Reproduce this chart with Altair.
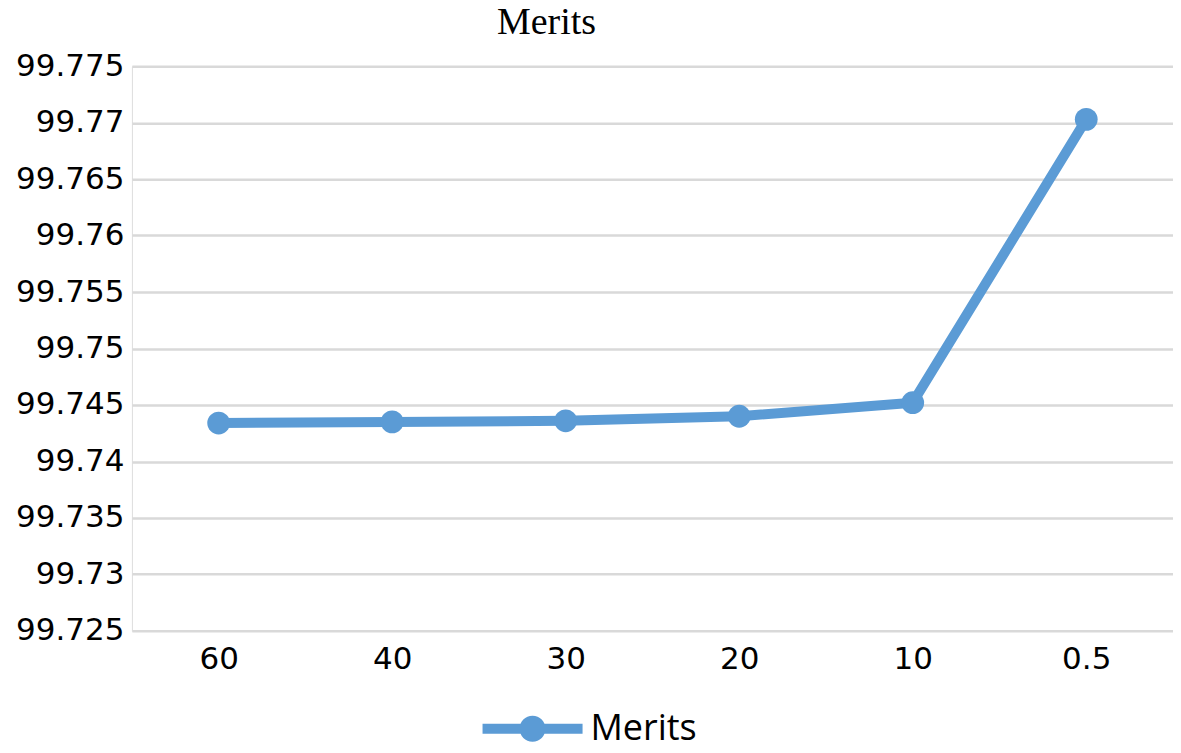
import altair as alt
import pandas as pd

categories = ["60", "40", "30", "20", "10", "0.5"]
values = [99.7434, 99.7435, 99.7436, 99.7440, 99.7452, 99.7703]
series = ["Merits"] * len(categories)
y_ticks = [99.725, 99.73, 99.735, 99.74, 99.745, 99.75, 99.755, 99.76, 99.765, 99.77, 99.775]

df = pd.DataFrame({"x": categories, "y": values, "series": series})

BLUE = "#5B9BD5"
legend_path = ("M-3.85,-0.38 L3.85,-0.38 L3.85,0.38 L-3.85,0.38 Z "
               "M-1,0 A1,1 0 1,1 1,0 A1,1 0 1,1 -1,0 Z")

x = alt.X("x:N", sort=categories, title=None,
          scale=alt.Scale(padding=0.5),
          axis=alt.Axis(labelAngle=0, labelFont="DejaVu Sans", labelFontSize=31,
                        labelColor="#000000", labelPadding=14, ticks=False,
                        domain=False, grid=False))
y = alt.Y("y:Q", title=None,
          scale=alt.Scale(domain=[99.725, 99.775], zero=False, nice=False),
          axis=alt.Axis(values=y_ticks, format=".5~r", labelFont="DejaVu Sans",
                        labelFontSize=31, labelColor="#000000", labelPadding=8,
                        ticks=False, domain=False, grid=True,
                        gridColor="#D9D9D9", gridWidth=2.5))

line = alt.Chart(df).mark_line(color=BLUE, strokeWidth=10, strokeCap="round",
                               strokeJoin="round").encode(x=x, y=y)

points = alt.Chart(df).mark_point(filled=True, size=520, opacity=1).encode(
    x=x, y=y,
    color=alt.Color("series:N", scale=alt.Scale(range=[BLUE]),
                    legend=alt.Legend(title=None, orient="none", legendX=383, legendY=645,
                                      symbolType=legend_path, symbolSize=676,
                                      symbolStrokeWidth=0, symbolOpacity=1,
                                      labelFont="Open Sans", labelFontSize=36,
                                      labelColor="#000000", labelOffset=40))
)

chart = alt.layer(line, points).properties(
    width=1042, height=565,
    padding={"left": 7, "top": -4, "right": 0, "bottom": 0},
    title=alt.Title("Merits", font="Liberation Serif", fontSize=38,
                    fontWeight="normal", color="#000000", dx=-106, offset=8),
).configure_view(stroke=None).configure(background="white")

chart.save("out.html", embed_options={"renderer": "svg", "actions": False})
